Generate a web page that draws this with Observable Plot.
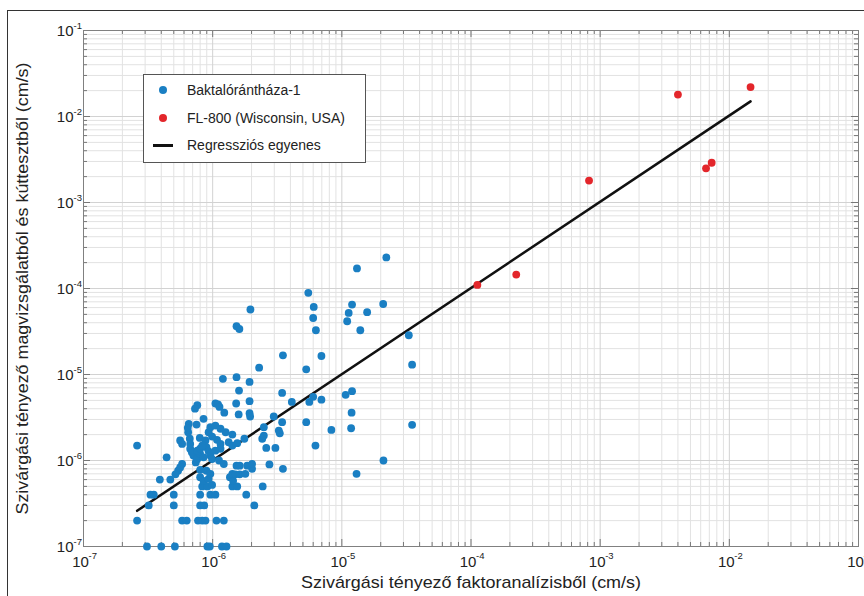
<!DOCTYPE html>
<html><head><meta charset="utf-8">
<script src="https://cdn.jsdelivr.net/npm/d3@7"></script>
<script src="https://cdn.jsdelivr.net/npm/@observablehq/plot@0.6"></script>
<style>
body{margin:0;background:#fff;font-family:"Liberation Sans",Arial,sans-serif}
#wrap{position:relative;width:864px;height:596px;overflow:hidden;background:#fff}
#frame{position:absolute;left:7px;top:10px;width:900px;height:700px;border:1.5px solid #333;pointer-events:none}
#legend{position:absolute;left:143px;top:74px;width:221px;height:87px;border:1px solid #555;background:#fff;font-size:14px;color:#222}
#legend .row{position:absolute;left:0;height:20px;line-height:20px}
#legend .sym{position:absolute;left:15px;top:6px;width:8px;height:8px;border-radius:50%}
#legend .ln{position:absolute;left:9px;top:9px;width:20px;height:2.5px;background:#111}
#legend .lab{position:absolute;left:43px;top:0;white-space:nowrap}
</style></head><body><div id="wrap"><div id="frame"></div></div>
<script>
// Baktalórántháza-1
const blueX = [3.1e-7,4.0e-7,5.1e-7,9.1e-7,9.5e-7,1.18e-6,1.28e-6,
2.6e-7,5.8e-7,6.3e-7,7.7e-7,8.3e-7,8.8e-7,1.07e-6,1.22e-6,
3.2e-7,5.0e-7,8.0e-7,8.6e-7,2.1e-6,
3.3e-7,3.5e-7,5.0e-7,8.0e-7,9.6e-7,1.05e-6,1.82e-6,
8.3e-7,9.1e-7,9.9e-7,1.42e-6,1.55e-6,2.44e-6,
3.9e-7,4.7e-7,8.0e-7,8.5e-7,9.3e-7,1.36e-6,1.44e-6,
5.4e-7,5.15e-7,8.0e-7,8.95e-7,9.6e-7,1.42e-6,1.5e-6,1.62e-6,1.79e-6,2.02e-6,3.5e-6,1.3e-5,
5.8e-7,5.6e-7,7.4e-7,1.12e-6,1.22e-6,1.53e-6,1.62e-6,1.85e-6,2.02e-6,2.75e-6,2.1e-5,
4.4e-7,7.1e-7,7.6e-7,8.0e-7,8.5e-7,9.6e-7,9.9e-7,
6.7e-7,6.9e-7,7.6e-7,8.0e-7,8.95e-7,9.3e-7,1.05e-6,1.15e-6,2.6e-6,3.06e-6,2.6e-7,6.25e-6,
5.6e-7,5.8e-7,6.65e-7,6.7e-7,7.95e-7,8.8e-7,8.3e-7,1.08e-6,1.15e-6,1.33e-6,1.42e-6,1.55e-6,1.76e-6,2.42e-6,2.49e-6,
6.46e-7,9.3e-7,9.9e-7,1.26e-6,1.42e-6,3.25e-6,3.31e-6,
6.53e-7,6.42e-7,7.5e-7,9.6e-7,1.05e-6,1.15e-6,2.49e-6,5.3e-6,3.45e-6,8.3e-6,1.18e-5,3.5e-5,
8.5e-7,2.97e-6,1.59e-6,1.93e-6,1.95e-6,1.23e-6,1.19e-5,
1.05e-6,1.1e-6,7.6e-7,7.3e-7,1.13e-6,1.52e-6,1.93e-6,4.1e-6,5.6e-6,6.0e-6,6.95e-6,1.07e-5,1.2e-5,
1.6e-6,3.45e-6,1.93e-6,1.2e-6,1.53e-6,
2.29e-6,5.3e-6,3.5e-6,6.95e-6,3.5e-5,3.3e-5,6.3e-6,1.39e-5,1.53e-6,1.61e-6,1.1e-5,6.0e-6,1.96e-6,6.06e-6,1.13e-5,1.57e-5,1.2e-5,2.09e-5,5.5e-6,1.31e-5,2.21e-5];
const blueY = [1e-7,1e-7,1e-7,1e-7,1e-7,1e-7,1e-7,
2e-7,2e-7,2e-7,2e-7,2e-7,2e-7,2e-7,2e-7,
3e-7,3e-7,3e-7,3e-7,3e-7,
4e-7,4e-7,4e-7,4e-7,4e-7,4e-7,4e-7,
5e-7,5e-7,5.2e-7,5e-7,5e-7,5e-7,
6e-7,6e-7,6.4e-7,5.8e-7,6.1e-7,6.4e-7,5.8e-7,
7.6e-7,6.9e-7,7.8e-7,7.6e-7,7e-7,7e-7,6.9e-7,6.9e-7,7e-7,8e-7,8e-7,7e-7,
9.1e-7,8.3e-7,9.5e-7,1e-6,9.1e-7,8.7e-7,8.7e-7,8.7e-7,9.1e-7,9e-7,1e-6,
1.09e-6,1.14e-6,1.04e-6,1.19e-6,1.09e-6,1.14e-6,1.04e-6,
1.37e-6,1.25e-6,1.3e-6,1.37e-6,1.43e-6,1.28e-6,1.3e-6,1.37e-6,1.4e-6,1.4e-6,1.49e-6,1.49e-6,
1.71e-6,1.56e-6,1.79e-6,1.56e-6,1.83e-6,1.71e-6,1.49e-6,1.74e-6,1.56e-6,1.63e-6,1.49e-6,1.59e-6,1.79e-6,1.79e-6,1.95e-6,
2.13e-6,2.13e-6,1.9e-6,2.13e-6,2.0e-6,2.23e-6,2.07e-6,
2.67e-6,2.4e-6,2.62e-6,2.44e-6,2.55e-6,2.34e-6,2.44e-6,2.79e-6,2.79e-6,2.27e-6,2.37e-6,2.6e-6,
3.05e-6,3.25e-6,3.43e-6,3.55e-6,3.25e-6,3.6e-6,3.6e-6,
4.6e-6,4.5e-6,4.4e-6,4.0e-6,4.2e-6,4.6e-6,4.9e-6,4.8e-6,4.8e-6,5.5e-6,5.1e-6,5.8e-6,6.4e-6,
6.5e-6,6.1e-6,8.2e-6,8.9e-6,9.3e-6,
1.2e-5,1.15e-5,1.67e-5,1.64e-5,1.3e-5,2.86e-5,3.27e-5,3.27e-5,3.64e-5,3.38e-5,4.16e-5,4.54e-5,5.7e-5,6.1e-5,5.2e-5,5.3e-5,6.5e-5,6.6e-5,8.9e-5,1.71e-4,2.3e-4];

// FL-800 (Wisconsin, USA)
const redX = [1.12e-4,2.24e-4,8.2e-4,4.0e-3,6.6e-3,7.3e-3,1.46e-2];
const redY = [1.1e-4,1.45e-4,1.8e-3,1.8e-2,2.5e-3,2.9e-3,2.2e-2];

// Regressziós egyenes (endpoints)
const regX = [2.6e-7,1.46e-2];
const regY = [2.6e-7,1.5e-2];

const majorTicks = [1e-7,1e-6,1e-5,1e-4,1e-3,1e-2,1e-1];
const tickExp = ["-7","-6","-5","-4","-3","-2","-1"];
const minorMult = [2,3,4,5,6,7,8,9];

const seriesNames = ["Baktalórántháza-1","FL-800 (Wisconsin, USA)","Regressziós egyenes"];
const colors = ["#1a7fc3","#e3262b","#111"];
const xTitle = "Szivárgási tényező faktoranalízisből (cm/s)";
const yTitle = "Szivárgási tényező magvizsgálatból és kúttesztből (cm/s)";

const minorTicks = [];
for (const d of majorTicks.slice(0,-1)) for (const m of minorMult) minorTicks.push(+(m*d).toPrecision(3));

const blue = blueX.map((x,i)=>({x, y: blueY[i]}));
const red = redX.map((x,i)=>({x, y: redY[i]}));
const reg = regX.map((x,i)=>({x, y: regY[i]}));
const majLab = majorTicks.map((v,i)=>({v, e: tickExp[i]}));

const W=864,H=596,mL=83,mR=6,mT=30,mB=50;
const pw=W-mL-mR, ph=H-mT-mB;
const font = "Liberation Sans, Arial, sans-serif";
const txt = "#222";

const chart = Plot.plot({
  width: W, height: H, marginLeft: mL, marginRight: mR, marginTop: mT, marginBottom: mB,
  style: {fontFamily: font, background: "transparent", color: txt},
  x: {type: "log", domain: [1e-7,1e-1], axis: null},
  y: {type: "log", domain: [1e-7,1e-1], axis: null},
  marks: [
    Plot.ruleX(minorTicks, {x: d=>d, stroke: "#e2e2e2", strokeWidth: 1}),
    Plot.ruleY(minorTicks, {y: d=>d, stroke: "#e2e2e2", strokeWidth: 1}),
    Plot.ruleX(majorTicks, {x: d=>d, stroke: "#d2d2d2", strokeWidth: 1}),
    Plot.ruleY(majorTicks, {y: d=>d, stroke: "#d2d2d2", strokeWidth: 1}),
    // inward ticks on all four sides
    Plot.tickX(minorTicks, {x: d=>d, insetTop: ph-4, stroke: "#777"}),
    Plot.tickX(minorTicks, {x: d=>d, insetBottom: ph-4, stroke: "#777"}),
    Plot.tickY(minorTicks, {y: d=>d, insetRight: pw-4, stroke: "#777"}),
    Plot.tickY(minorTicks, {y: d=>d, insetLeft: pw-4, stroke: "#777"}),
    Plot.tickX(majorTicks, {x: d=>d, insetTop: ph-7, stroke: "#777"}),
    Plot.tickX(majorTicks, {x: d=>d, insetBottom: ph-7, stroke: "#777"}),
    Plot.tickY(majorTicks, {y: d=>d, insetRight: pw-7, stroke: "#777"}),
    Plot.tickY(majorTicks, {y: d=>d, insetLeft: pw-7, stroke: "#777"}),
    Plot.frame({stroke: "#808080", strokeWidth: 1}),
    // tick labels
    Plot.text(majLab, {x: "v", text: ()=>"10", frameAnchor: "bottom", lineAnchor: "middle", textAnchor: "middle", dy: 16, dx: -3, fontSize: 15, fill: txt}),
    Plot.text(majLab, {x: "v", text: "e", frameAnchor: "bottom", lineAnchor: "middle", dy: 9, dx: 5, textAnchor: "start", fontSize: 9.5, fill: txt}),
    Plot.text(majLab, {y: "v", text: ()=>"10", frameAnchor: "left", lineAnchor: "middle", dx: -10, dy: 1, textAnchor: "end", fontSize: 15, fill: txt}),
    Plot.text(majLab, {y: "v", text: "e", frameAnchor: "left", lineAnchor: "middle", dx: -10, dy: -5, textAnchor: "start", fontSize: 9.5, fill: txt}),
    // axis titles
    Plot.text([xTitle], {text: d=>d, frameAnchor: "bottom", lineAnchor: "middle", textAnchor: "middle", dy: 36, fontSize: 17, fill: txt, className: "xtitle"}),
    Plot.text([yTitle], {text: d=>d, frameAnchor: "left", lineAnchor: "middle", textAnchor: "middle", dx: -61, rotate: -90, fontSize: 17, fill: txt, className: "ytitle"}),
    // data
    Plot.line(reg, {x: "x", y: "y", stroke: colors[2], strokeWidth: 2.5}),
    Plot.dot(blue, {x: "x", y: "y", r: 3.9, fill: colors[0], stroke: "none"}),
    Plot.dot(red, {x: "x", y: "y", r: 3.9, fill: colors[1], stroke: "none"})
  ]
});

// stretch axis titles to the reference's text extents
d3.select(chart).selectAll(".xtitle text").attr("textLength", 340).attr("lengthAdjust", "spacingAndGlyphs");
d3.select(chart).selectAll(".ytitle text").attr("textLength", 452).attr("lengthAdjust", "spacingAndGlyphs");

const wrap = document.getElementById("wrap");
chart.style.position = "absolute";
chart.style.left = "0px";
chart.style.top = "0px";
wrap.insertBefore(chart, wrap.firstChild);

const lg = document.createElement("div");
lg.id = "legend";
const tops = [5, 33, 60];
seriesNames.forEach((name, i) => {
  const row = document.createElement("div");
  row.className = "row";
  row.style.top = tops[i] + "px";
  row.style.width = "100%";
  const s = document.createElement("div");
  if (i < 2) { s.className = "sym"; s.style.background = colors[i]; }
  else { s.className = "ln"; }
  const l = document.createElement("div");
  l.className = "lab";
  l.textContent = name;
  row.appendChild(s); row.appendChild(l);
  lg.appendChild(row);
});
wrap.appendChild(lg);
</script>
</body></html>
